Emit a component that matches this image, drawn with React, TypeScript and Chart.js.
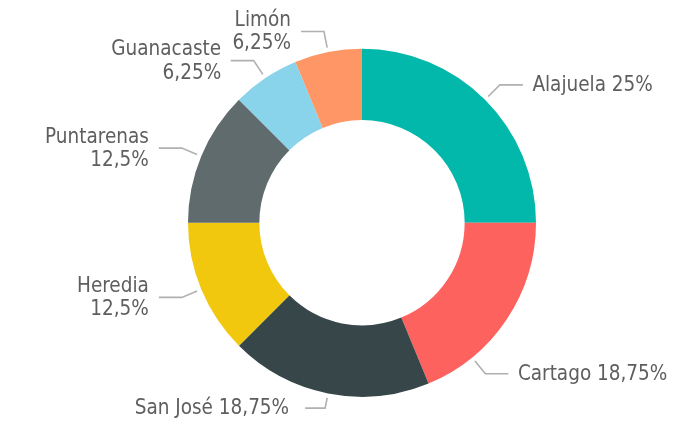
import React, { useEffect, useRef } from "react";
import { Chart, registerables } from "chart.js";

Chart.register(...registerables);

const categories = ["Alajuela", "Cartago", "San José", "Heredia", "Puntarenas", "Guanacaste", "Limón"];
const percentages = [25, 18.75, 18.75, 12.5, 12.5, 6.25, 6.25];
const colors = ["#01B8AA", "#FD625E", "#374649", "#F2C80F", "#5F6B6D", "#8AD4EB", "#FE9666"];

// label layout (style only)
const labelTwoLines = [false, false, false, true, true, true, true];
const labelAngleShiftDeg = [0, 17, 0, 0, 0, 0, 0];
const elbowExtra = [21, 21, 15, 21, 21, 21, 21];
const tailLength = [23, 23, 20, 23, 23, 23, 23];
const textGap = [9.5, 9.5, 16, 10, 10, 9.5, 10];

const FONT = "20.5px 'DejaVu Sans Condensed', 'DejaVu Sans', sans-serif";
const TEXT_COLOR = "#5E5E5E";
const LINE_COLOR = "#B0B0B0";

const fmt = (v: number) => String(v).replace(".", ",") + "%";

const labelPlugin = {
  id: "leaderLabels",
  afterDraw(chart: any) {
    const ctx = chart.ctx as CanvasRenderingContext2D;
    const meta = chart.getDatasetMeta(0);
    ctx.save();
    meta.data.forEach((arc: any, i: number) => {
      const { x, y, startAngle, endAngle, outerRadius } = arc.getProps(
        ["x", "y", "startAngle", "endAngle", "outerRadius"],
        true
      );
      const a = (startAngle + endAngle) / 2 + (labelAngleShiftDeg[i] * Math.PI) / 180;
      const r0 = outerRadius + 4.5;
      const r1 = outerRadius + elbowExtra[i];
      const sx = x + r0 * Math.cos(a);
      const sy = y + r0 * Math.sin(a);
      const ex = x + r1 * Math.cos(a);
      const ey = y + r1 * Math.sin(a);
      const right = Math.cos(a) >= 0;
      const tx = ex + (right ? tailLength[i] : -tailLength[i]);
      ctx.strokeStyle = LINE_COLOR;
      ctx.lineWidth = 1.6;
      ctx.beginPath();
      ctx.moveTo(sx, sy);
      ctx.lineTo(ex, ey);
      ctx.lineTo(tx, ey);
      ctx.stroke();

      const lines = labelTwoLines[i]
        ? [categories[i], fmt(percentages[i])]
        : [categories[i] + " " + fmt(percentages[i])];
      ctx.font = FONT;
      (ctx as any).fontStretch = "condensed";
      ctx.fillStyle = TEXT_COLOR;
      ctx.textAlign = right ? "left" : "right";
      ctx.textBaseline = "alphabetic";
      const LH = 23.3;
      const textX = tx + (right ? textGap[i] : -textGap[i]);
      lines.forEach((t, k) => {
        const by = ey + 6.3 + (k - (lines.length - 1) / 2) * LH;
        ctx.fillText(t, textX, by);
      });
    });
    ctx.restore();
  },
};

export default function App() {
  const ref = useRef<HTMLCanvasElement>(null);
  useEffect(() => {
    if (!ref.current) return;
    const chart = new Chart(ref.current, {
      type: "doughnut",
      data: {
        labels: categories,
        datasets: [
          {
            data: percentages,
            backgroundColor: colors,
            borderWidth: 0,
          },
        ],
      },
      options: {
        responsive: false,
        animation: false,
        cutout: "59%",
        layout: { padding: { left: 188, right: 161, top: 48.5, bottom: 28 } },
        plugins: {
          legend: { display: false },
          tooltip: { enabled: false },
        },
      },
      plugins: [labelPlugin],
    });
    return () => chart.destroy();
  }, []);
  return (
    <div style={{ position: "absolute", left: 0, top: 0, width: 697, height: 425, background: "#fff" }}>
      <canvas ref={ref} width={697} height={425} style={{ width: 697, height: 425 }} />
    </div>
  );
}
